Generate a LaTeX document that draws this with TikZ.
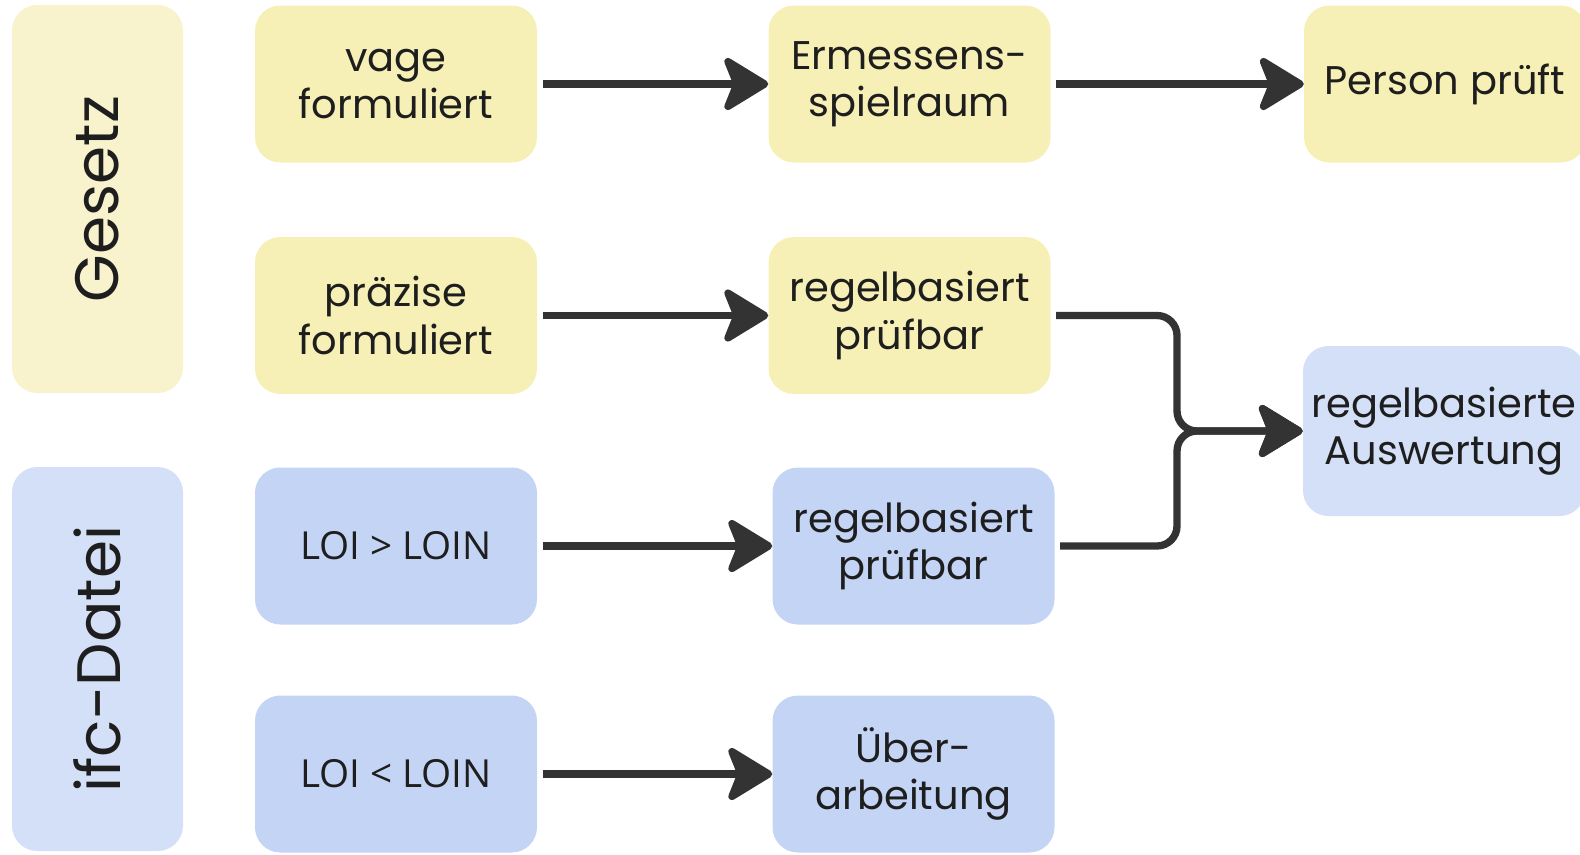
\documentclass[tikz,border=0pt]{standalone}
\usepackage{fontspec}
\setmainfont{Poppins}
\newfontfamily\loifont{Open Sans}
\usetikzlibrary{
  arrows.meta,
  positioning,
  calc
}
\definecolor{lwYellow}{HTML}{F6EFB6}
\definecolor{lwYellowLight}{HTML}{F8F2CD}
\definecolor{lwBlue}{HTML}{C3D4F5}
\definecolor{lwBlueLight}{HTML}{D4E0F7}
\definecolor{lwInk}{HTML}{333333}
\definecolor{lwText}{HTML}{1E1E1E}
\tikzset{
  lwnode/.style={
    rounded corners=19pt, minimum width=211.5pt, minimum height=117.75pt,
    inner sep=0pt, align=center, text=lwText, font=\fontsize{30}{35.5}\selectfont
  },
  lawbox/.style={lwnode, fill=lwYellow},
  ifcbox/.style={lwnode, fill=lwBlue},
  loibox/.style={ifcbox, font=\loifont\fontsize{29}{35}\selectfont},
  resultbox/.style={lwnode, fill=lwBlueLight, minimum height=127.5pt},
  sidebox/.style={
    rounded corners=19pt, rotate=90, minimum height=128.25pt,
    inner sep=0pt, text=lwText, font=\fontsize{46}{50}\selectfont
  },
  flow/.style={-{Stealth[length=38pt, width=46pt, inset=9pt, round]},
    line width=5.5pt, lwInk, shorten <=4pt}
}
\begin{document}
\begin{tikzpicture}[x=0.75pt, y=-0.75pt]
  \useasboundingbox (0,0) rectangle (1580,854);
  % Seitenleisten
  \node[sidebox, fill=lwYellowLight, minimum width=291pt] (gesetz) at (97.5,199) {Gesetz};
  \node[sidebox, fill=lwBlueLight, minimum width=288pt] (ifc) at (97.5,659) {ifc-Datei};
  % Gesetz
  \node[lawbox] (vage) at (396,84) {vage\\formuliert};
  \node[lawbox, right=173.25pt of vage] (ermessen) {Ermessens-\\spielraum};
  \node[lawbox, right=189.75pt of ermessen] (person) {Person prüft};
  \node[lawbox] (praezise) at (396,315.5) {präzise\\formuliert};
  \node[lawbox, right=173.25pt of praezise] (regelgesetz) {regelbasiert\\prüfbar};
  % ifc-Datei
  \node[loibox] (loigr) at (396,546) {LOI > LOIN};
  \node[ifcbox, right=176.25pt of loigr] (regelifc) {regelbasiert\\prüfbar};
  \node[loibox] (loikl) at (396,774) {LOI < LOIN};
  \node[ifcbox, right=176.25pt of loikl] (ueber) {Über-\\arbeitung};
  \node[resultbox] (auswertung) at (1444,431) {regelbasierte\\Auswertung};
  \coordinate (merge) at (1177,431);
  % Pfeile
  \draw[flow] (vage) -- (ermessen);
  \draw[flow] (ermessen) -- (person);
  \draw[flow] (praezise) -- (regelgesetz);
  \draw[flow] (loigr) -- (regelifc);
  \draw[flow] (loikl) -- (ueber);
  \draw[flow, rounded corners=15pt] (regelgesetz.east) -| (merge) -- (auswertung.west);
  \draw[flow, rounded corners=15pt] (regelifc.east) -| (merge) -- (auswertung.west);
\end{tikzpicture}
\end{document}
